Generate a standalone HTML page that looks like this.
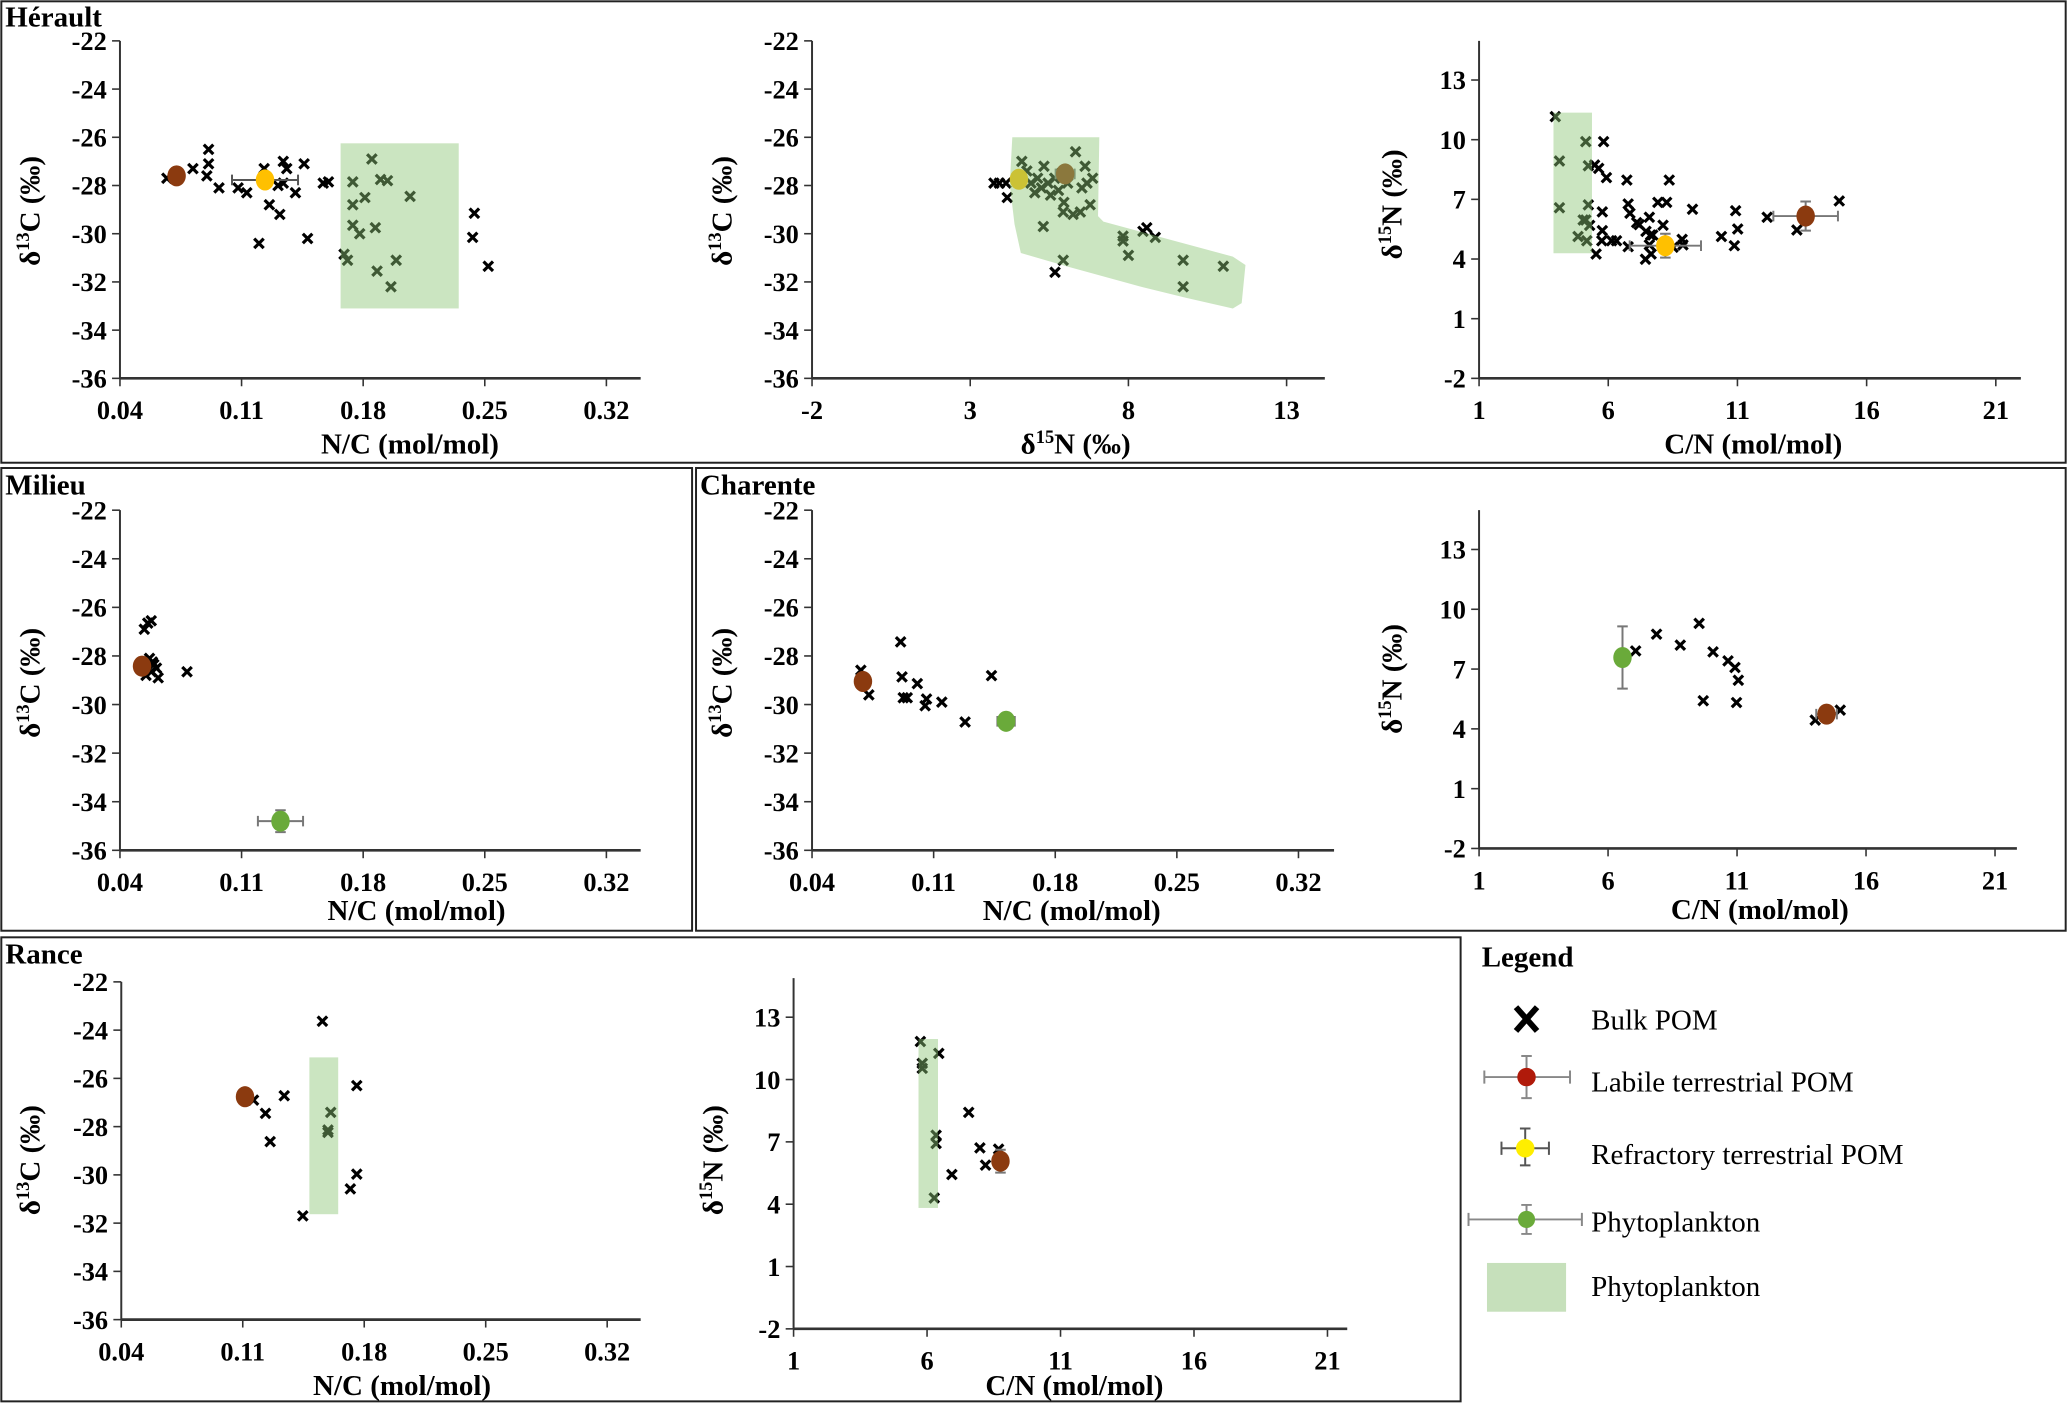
<!DOCTYPE html>
<html><head><meta charset="utf-8"><style>
html,body{margin:0;padding:0;background:#fff;}
svg{display:block;font-family:"Liberation Serif",serif;}
.tk{font-size:20px;font-weight:bold;}
.ti{font-size:22px;font-weight:bold;}
.lg{font-size:22px;}
</style></head><body>
<svg id="fig" width="2067" height="1404" viewBox="0 0 1568 1065" preserveAspectRatio="none" xmlns="http://www.w3.org/2000/svg">
<rect x="1" y="1" width="1566" height="350" fill="none" stroke="#222" stroke-width="1.5"/>
<rect x="1" y="355" width="524" height="351" fill="none" stroke="#222" stroke-width="1.5"/>
<rect x="528" y="355" width="1039" height="351" fill="none" stroke="#222" stroke-width="1.5"/>
<rect x="1" y="711" width="1107" height="352" fill="none" stroke="#222" stroke-width="1.5"/>
<text x="4" y="20" class="ti">Hérault</text>
<text x="4" y="375" class="ti">Milieu</text>
<text x="531" y="375" class="ti">Charente</text>
<text x="4" y="731" class="ti">Rance</text>
<g>
<text x="1124" y="733" class="ti">Legend</text>
<g>
<path d="M1150 764 L1166 782 M1166 764 L1150 782" stroke="#000" stroke-width="4.5"/>
<text x="1207" y="781" class="lg">Bulk POM</text></g>
<g>
<path d="M1126 817 H1191 M1126 812 V822 M1191 812 V822 M1158 801 V833 M1154 801 H1162 M1154 833 H1162" stroke="#888" stroke-width="1.5"/>
<circle cx="1158" cy="817" r="7" fill="#b01a0a"/>
<text x="1207" y="828" class="lg">Labile terrestrial POM</text></g>
<g>
<path d="M1139 871 H1175 M1139 866 V876 M1175 866 V876 M1157 856 V884 M1153 856 H1161 M1153 884 H1161" stroke="#555" stroke-width="1.5"/>
<circle cx="1157" cy="871" r="7" fill="#ffee00"/>
<text x="1207" y="883" class="lg">Refractory terrestrial POM</text></g>
<g>
<path d="M1114 925 H1200 M1114 920 V930 M1200 920 V930 M1158 914 V936 M1154 914 H1162 M1154 936 H1162" stroke="#888" stroke-width="1.5"/>
<circle cx="1158" cy="925" r="6.5" fill="#6aaa3a"/>
<text x="1207" y="934" class="lg">Phytoplankton</text></g>
<g>
<rect x="1128" y="958" width="60" height="37" fill="#c6e0bb"/>
<text x="1207" y="983" class="lg">Phytoplankton</text></g>
</g>
</svg>
<script>
// ---------- DATA ----------
const aBulkX=[0.067,0.082,0.091,0.091,0.090,0.097,0.108,0.113,0.123,0.134,0.136,0.131,0.134,0.141,0.126,0.132,0.120,0.146,0.148,0.157,0.160,0.185,0.174,0.174,0.181,0.207,0.174,0.187,0.178,0.190,0.194,0.169,0.171,0.188,0.199,0.196,0.244,0.243,0.252];
const aBulkY=[-27.7,-27.3,-26.5,-27.1,-27.6,-28.1,-28.1,-28.3,-27.3,-27.0,-27.3,-28.0,-27.9,-28.3,-28.8,-29.2,-30.4,-27.1,-30.2,-27.9,-27.85,-26.9,-27.85,-28.8,-28.5,-28.45,-29.65,-29.75,-30.0,-27.75,-27.8,-30.85,-31.1,-31.55,-31.1,-32.2,-29.15,-30.15,-31.35];
const aLabile=[0.0726,-27.6,0.004,0.15];
const aRefr=[0.1235,-27.77,0.019,0.3];
const aPhytoBox=[0.167,0.235,-26.25,-33.1];
const bBulkX=[3.75,3.92,4.13,4.17,4.63,4.79,4.92,5.04,5.13,5.25,5.33,5.46,5.54,5.67,5.79,5.88,6.08,6.33,6.63,6.69,6.87,6.53,5.96,6.25,6.48,6.79,5.94,5.31,5.94,5.68,7.83,8.0,7.83,8.58,8.85,8.46,9.73,9.73,11.0];
const bBulkY=[-27.9,-27.9,-27.9,-28.5,-27.0,-27.4,-27.9,-28.3,-27.7,-28.1,-27.2,-27.9,-28.4,-27.7,-28.2,-27.5,-27.9,-26.6,-27.2,-27.9,-27.7,-28.1,-28.7,-29.2,-29.1,-28.8,-29.1,-29.7,-31.1,-31.6,-30.3,-30.9,-30.1,-29.75,-30.15,-29.9,-31.1,-32.2,-31.35];
const bLabile=[6.0,-27.52,0.3,0.1];
const bRefr=[4.54,-27.74,0,0];
const bPhytoAreaX=[4.33,7.08,7.04,7.21,11.3,11.7,11.58,11.3,9.83,8.37,6.04,4.6,4.4,4.25];
const bPhytoAreaY=[-26.0,-26.0,-29.27,-29.5,-30.95,-31.3,-32.88,-33.1,-32.66,-32.19,-31.35,-30.8,-29.6,-27.96];
const cBulkX=[3.95,4.11,4.11,5.13,5.23,5.23,5.03,5.13,5.28,4.83,5.17,5.47,5.63,5.82,5.93,5.77,5.77,5.75,5.53,6.13,6.32,6.72,6.77,6.84,6.77,7.10,7.20,7.46,7.59,7.59,7.64,7.72,7.44,7.66,7.92,8.26,8.12,8.36,8.51,8.86,8.89,9.26,10.38,10.93,11.01,10.88,12.15,13.30,14.94];
const cBulkY=[11.16,8.93,6.58,9.90,8.69,6.72,5.96,5.96,5.69,5.13,4.92,8.73,8.56,9.90,8.09,6.37,5.43,4.92,4.25,4.92,4.92,7.97,6.77,6.30,4.62,5.83,5.73,5.39,6.10,4.71,5.21,5.21,3.99,4.25,6.85,6.85,5.70,7.97,4.59,4.99,4.71,6.50,5.13,6.43,5.51,4.67,6.10,5.46,6.92];
const cLabile=[13.64,6.16,1.25,0.73];
const cRefr=[8.21,4.67,1.38,0.6];
const cPhytoBox=[3.88,5.37,11.36,4.29];
const dBulkX=[0.054,0.056,0.058,0.057,0.0595,0.061,0.058,0.062,0.055,0.0786,0.0587];
const dBulkY=[-26.9,-26.65,-26.55,-28.1,-28.35,-28.5,-28.65,-28.9,-28.8,-28.65,-28.25];
const dLabile=[0.0527,-28.42,0.002,0.3];
const dPhyto=[0.1324,-34.8,0.013,0.45];
const eBulkX=[0.0681,0.0727,0.0910,0.0918,0.0925,0.0948,0.1006,0.1051,0.1059,0.1147,0.1281,0.1433];
const eBulkY=[-28.59,-29.6,-27.42,-28.86,-29.72,-29.72,-29.14,-30.05,-29.77,-29.9,-30.72,-28.81];
const eLabile=[0.0693,-29.05,0.002,0.2];
const ePhyto=[0.1517,-30.69,0.005,0.1];
const fBulkX=[7.07,7.88,8.80,9.53,10.07,10.65,10.92,11.05,9.69,10.98,14.03,15.0];
const fBulkY=[7.91,8.75,8.20,9.29,7.86,7.41,7.08,6.44,5.41,5.32,4.44,4.94];
const fLabile=[14.47,4.74,0.4,0.2];
const fPhyto=[6.56,7.58,0.05,1.56];
const gBulkX=[0.1559,0.1162,0.1231,0.1258,0.1339,0.1607,0.1591,0.1591,0.1757,0.1757,0.1720,0.1446];
const gBulkY=[-23.63,-26.9,-27.45,-28.62,-26.72,-27.41,-28.14,-28.24,-26.3,-29.97,-30.58,-31.7];
const gLabile=[0.1113,-26.76,0.004,0.1];
const gPhytoBox=[0.1484,0.165,-25.13,-31.63];
const hBulkX=[5.75,5.82,5.82,6.44,6.34,6.34,6.27,6.93,7.56,7.98,8.19,8.68];
const hBulkY=[11.83,10.78,10.54,11.26,7.32,6.92,4.30,5.43,8.42,6.71,5.88,6.65];
const hLabile=[8.75,6.07,0.2,0.55];
const hPhytoBox=[5.68,6.41,11.95,3.82];
const ncTicks=[0.04,0.11,0.18,0.25,0.32];
const d15Ticks=[-2,3,8,13];
const cnTicks=[1,6,11,16,21];
const d13YTicks=[-36,-34,-32,-30,-28,-26,-24,-22];
const d15YTicks=[-2,1,4,7,10,13];

// ---------- DRAWING ----------
const NS="http://www.w3.org/2000/svg";
const svg=document.getElementById('fig');
function mk(tag,attrs,parent){const e=document.createElementNS(NS,tag);for(const k in attrs)e.setAttribute(k,attrs[k]);(parent||svg).appendChild(e);return e;}
const GREEN_FILL='rgba(140,198,118,0.45)';
function isoText(el,sup,rest){
  el.appendChild(document.createTextNode('δ'));
  const t1=mk('tspan',{dy:-8,'font-size':14},el);t1.textContent=sup;
  const t2=mk('tspan',{dy:8},el);t2.textContent=rest;
}
function makePanel(id,c){
  const g=mk('g',{});
  
  
  c.sx=v=>c.px0+(v-c.xmin)/(c.xmax-c.xmin)*(c.px1-c.px0);
  c.sy=v=>c.py0+(v-c.ymin)/(c.ymax-c.ymin)*(c.py1-c.py0);
  c.g=g;
  const xa=mk('line',{x1:c.px0,y1:c.py0,x2:c.xend,y2:c.py0,stroke:'#333','stroke-width':2},g);
  
  
  const ya=mk('line',{x1:c.px0,y1:c.py0,x2:c.px0,y2:c.ytop,stroke:'#333','stroke-width':1.5},g);
  
  
  c.xticks.forEach(t=>{
    const x=c.sx(t);
    mk('line',{x1:x,y1:c.py0,x2:x,y2:c.py0+6,stroke:'#333','stroke-width':1.2},g);
    const tx=mk('text',{x:x,y:c.py0+31,'text-anchor':'middle',class:'tk'},g);
    tx.textContent=String(t);
    
    
  });
  c.yticks.forEach(t=>{
    const y=c.sy(t);
    mk('line',{x1:c.px0-6,y1:y,x2:c.px0,y2:y,stroke:'#333','stroke-width':1.2},g);
    const tx=mk('text',{x:c.px0-10,y:y+7,'text-anchor':'end',class:'tk'},g);
    tx.textContent=String(t);
    
    
  });
  const xt=mk('text',{x:c.xtx,y:c.xty,'text-anchor':'middle',class:'ti'},g);
  
  
  if(c.xIso) isoText(xt,c.xIso[0],c.xIso[1]); else xt.textContent=c.xlab;
  const yt=mk('text',{x:0,y:0,'text-anchor':'middle',class:'ti',transform:'translate('+c.ytx+','+c.yty+') rotate(-90)'},g);
  
  
  isoText(yt,c.yIso[0],c.yIso[1]);
  return c;
}
function crosses(c,xs,ys,id){
  for(let i=0;i<xs.length;i++){
    const x=c.sx(xs[i]),y=c.sy(ys[i]),h=3.6;
    const p=mk('path',{d:`M${x-h} ${y-h} L${x+h} ${y+h} M${x+h} ${y-h} L${x-h} ${y+h}`,stroke:'#000','stroke-width':2.4},c.g);
    
    
  }
}
function errPoint(c,d,color,id,ebColor){
  const x=c.sx(d[0]),y=c.sy(d[1]);
  const x1=c.sx(d[0]-d[2]),x2=c.sx(d[0]+d[2]),y1=c.sy(d[1]-d[3]),y2=c.sy(d[1]+d[3]);
  const eb=mk('path',{d:`M${x1} ${y} H${x2} M${x1} ${y-4} V${y+4} M${x2} ${y-4} V${y+4} M${x} ${y1} V${y2} M${x-4} ${y1} H${x+4} M${x-4} ${y2} H${x+4}`,stroke:ebColor||'#777','stroke-width':1.5,fill:'none'},c.g);
  
  
  const e=mk('ellipse',{cx:x,cy:y,rx:7,ry:8,fill:color},c.g);
  
  
}
function phytoBox(c,b,id){
  const x1=c.sx(b[0]),x2=c.sx(b[1]),y1=c.sy(b[2]),y2=c.sy(b[3]);
  const r=mk('rect',{x:Math.min(x1,x2),y:Math.min(y1,y2),width:Math.abs(x2-x1),height:Math.abs(y2-y1),fill:GREEN_FILL},c.g);
  
  
}
const BROWN='#8b3a0f',YELLOW='#ffc000',GREEN='#6aaa3a';
const Y13=['13','C (‰)'],Y15=['15','N (‰)'];

const A=makePanel('herault-nc',{xmin:0.04,xmax:0.32,px0:91,px1:460,ymin:-36,ymax:-22,py0:287,py1:31,xend:486,ytop:31,xticks:ncTicks,yticks:d13YTicks,xlab:'N/C (mol/mol)',yIso:Y13,xtx:311,xty:344,ytx:30,yty:160});
crosses(A,aBulkX,aBulkY,'herault-nc');
errPoint(A,aLabile,BROWN,'herault-nc-labile-point');
errPoint(A,aRefr,YELLOW,'herault-nc-refractory-point','#555');
phytoBox(A,aPhytoBox,'herault-nc');

const B=makePanel('herault-d15n',{xmin:-2,xmax:13,px0:616,px1:976,ymin:-36,ymax:-22,py0:287,py1:31,xend:1005,ytop:31,xticks:d15Ticks,yticks:d13YTicks,xIso:Y15,yIso:Y13,xtx:816,xty:344,ytx:555,yty:160});
crosses(B,bBulkX,bBulkY,'herault-d15n');
errPoint(B,bLabile,BROWN,'herault-d15n-labile-point');
errPoint(B,bRefr,YELLOW,'herault-d15n-refractory-point');
(function(){
  let d='';
  for(let i=0;i<bPhytoAreaX.length;i++){d+=(i?'L':'M')+B.sx(bPhytoAreaX[i])+' '+B.sy(bPhytoAreaY[i])+' ';}
  const p=mk('path',{d:d+'Z',fill:GREEN_FILL,'stroke-linejoin':'round'},B.g);
  
  
})();

const C=makePanel('herault-cn',{xmin:1,xmax:21,px0:1122,px1:1514,ymin:-2,ymax:13,py0:287,py1:60.7,xend:1533,ytop:31,xticks:cnTicks,yticks:d15YTicks,xlab:'C/N (mol/mol)',yIso:Y15,xtx:1330,xty:344,ytx:1063,yty:155});
crosses(C,cBulkX,cBulkY,'herault-cn');
errPoint(C,cLabile,BROWN,'herault-cn-labile-point');
errPoint(C,cRefr,YELLOW,'herault-cn-refractory-point');
phytoBox(C,cPhytoBox,'herault-cn');

const D=makePanel('milieu-nc',{xmin:0.04,xmax:0.32,px0:91,px1:460,ymin:-36,ymax:-22,py0:645,py1:387,xend:486,ytop:387,xticks:ncTicks,yticks:d13YTicks,xlab:'N/C (mol/mol)',yIso:Y13,xtx:316,xty:698,ytx:30,yty:518});
crosses(D,dBulkX,dBulkY,'milieu-nc');
errPoint(D,dLabile,BROWN,'milieu-nc-labile-point');
errPoint(D,dPhyto,GREEN,'milieu-nc-phytoplankton-point');

const E=makePanel('charente-nc',{xmin:0.04,xmax:0.32,px0:616,px1:985,ymin:-36,ymax:-22,py0:645,py1:387,xend:1012,ytop:387,xticks:ncTicks,yticks:d13YTicks,xlab:'N/C (mol/mol)',yIso:Y13,xtx:813,xty:698,ytx:555,yty:518});
crosses(E,eBulkX,eBulkY,'charente-nc');
errPoint(E,eLabile,BROWN,'charente-nc-labile-point');
errPoint(E,ePhyto,GREEN,'charente-nc-phytoplankton-point');

const F=makePanel('charente-cn',{xmin:1,xmax:21,px0:1122,px1:1513.4,ymin:-2,ymax:13,py0:643.6,py1:416.8,xend:1530,ytop:387,xticks:cnTicks,yticks:d15YTicks,xlab:'C/N (mol/mol)',yIso:Y15,xtx:1335,xty:697,ytx:1063,yty:515});
crosses(F,fBulkX,fBulkY,'charente-cn');
errPoint(F,fLabile,BROWN,'charente-cn-labile-point');
errPoint(F,fPhyto,GREEN,'charente-cn-phytoplankton-point');

const G=makePanel('rance-nc',{xmin:0.04,xmax:0.32,px0:92,px1:460.6,ymin:-36,ymax:-22,py0:1001,py1:744.8,xend:486,ytop:744.8,xticks:ncTicks,yticks:d13YTicks,xlab:'N/C (mol/mol)',yIso:Y13,xtx:305,xty:1058,ytx:30,yty:880});
crosses(G,gBulkX,gBulkY,'rance-nc');
errPoint(G,gLabile,BROWN,'rance-nc-labile-point');
phytoBox(G,gPhytoBox,'rance-nc');

const H=makePanel('rance-cn',{xmin:1,xmax:21,px0:602,px1:1007,ymin:-2,ymax:13,py0:1008,py1:771.6,xend:1022,ytop:742,xticks:cnTicks,yticks:d15YTicks,xlab:'C/N (mol/mol)',yIso:Y15,xtx:815,xty:1058,ytx:548,yty:880});
crosses(H,hBulkX,hBulkY,'rance-cn');
errPoint(H,hLabile,BROWN,'rance-cn-labile-point');
phytoBox(H,hPhytoBox,'rance-cn');
</script>
</body></html>
